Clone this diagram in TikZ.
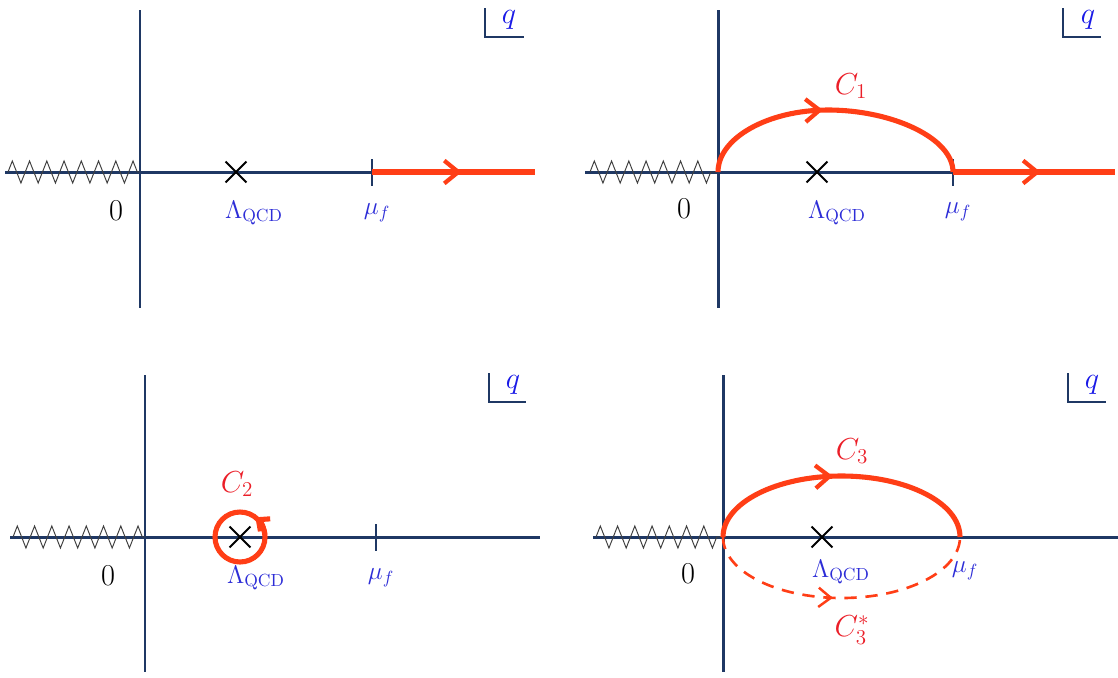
\documentclass[tikz,border=0pt]{standalone}
\usetikzlibrary{decorations.pathmorphing,decorations.markings,arrows.meta,shapes.misc}
\definecolor{axiscol}{RGB}{31,56,100}
\definecolor{cred}{RGB}{255,62,22}
\definecolor{lblue}{RGB}{45,45,215}
\definecolor{qblue}{RGB}{25,25,230}
\definecolor{lred}{RGB}{235,30,40}
\tikzset{
  axisline/.style={axiscol, line width=1.7pt},
  cutline/.style={black!75, line width=0.55pt, decorate,
    decoration={zigzag, segment length=0.345cm, amplitude=0.22cm}},
  contour/.style={cred, line width=2.9pt},
  dcontour/.style={cred, line width=1.5pt, dash pattern=on 7pt off 5pt},
  midarrow/.style={postaction={decorate, decoration={markings,
    mark=at position #1 with {\arrow[cred, line width=2.4pt]{Straight Barb[length=8pt, width=13pt]}}}}},
  dmidarrow/.style={postaction={decorate, decoration={markings,
    mark=at position #1 with {\arrow[cred, line width=1.4pt]{Straight Barb[length=7pt, width=11pt]}}}}},
  crossmark/.style={cross out, draw=black, line width=1.1pt, minimum size=0.38cm, inner sep=0pt},
  tick/.style={axiscol, line width=1.4pt},
  qcorner/.style={axiscol, line width=1.3pt},
  zero/.style={black, font=\fontsize{16}{18}\selectfont},
  blbl/.style={text=lblue, font=\fontsize{14.5}{17}\selectfont, inner sep=0pt},
  qlbl/.style={text=qblue, font=\fontsize{18}{20}\selectfont, inner sep=0pt},
  clbl/.style={text=lred, font=\fontsize{17}{19}\selectfont, inner sep=0pt},
}
\begin{document}
\begin{tikzpicture}[x=0.02cm, y=-0.02cm]
\useasboundingbox (0,0) rectangle (1118,677);

% ================= Panel 1 =================
\coordinate (a1t) at (140,10); \coordinate (a1b) at (140,308);
\coordinate (a1l) at (5,172);  \coordinate (a1r) at (535,172);
\coordinate (z1s) at (8,172);  \coordinate (o1) at (140,172);
\coordinate (m1) at (372,172);
\coordinate (m1u) at (372,159); \coordinate (m1d) at (372,186);
\draw[axisline] (a1t) -- (a1b);
\draw[axisline] (a1l) -- (a1r);
\draw[cutline] (z1s) -- (o1);
\draw[tick] (m1u) -- (m1d);
\node[crossmark] (x1) at (236,172) {};
\draw[contour, midarrow=0.55] (m1) -- (a1r);
\node[zero] (zero1) at (116,211) {$0$};
\node[blbl] (lam1) at (254,213) {$\Lambda_{\mathrm{QCD}}$};
\node[blbl] (mu1) at (377,213) {$\mu_f$};
\coordinate (q1a) at (485,8); \coordinate (q1b) at (485,37); \coordinate (q1c) at (524,37);
\draw[qcorner] (q1a) -- (q1b) -- (q1c);
\node[qlbl] (q1) at (509,20) {$q$};

% ================= Panel 2 =================
\coordinate (a2t) at (718,10); \coordinate (a2b) at (718,308);
\coordinate (a2l) at (585,172); \coordinate (a2r) at (1115,172);
\coordinate (z2s) at (590,172); \coordinate (o2) at (718,172);
\coordinate (m2) at (953,172);
\coordinate (m2u) at (953,159); \coordinate (m2d) at (953,186);
\draw[axisline] (a2t) -- (a2b);
\draw[axisline] (a2l) -- (a2r);
\draw[cutline] (z2s) -- (o2);
\draw[tick] (m2u) -- (m2d);
\node[crossmark] (x2) at (817,172) {};
\draw[contour, midarrow=0.46] (o2) .. controls (718,138) and (768,110) .. (828,110)
   .. controls (892,110) and (953,138) .. (m2);
\draw[contour, midarrow=0.54] (m2) -- (a2r);
\node[zero] (zero2) at (684,209) {$0$};
\node[blbl] (lam2) at (837,213) {$\Lambda_{\mathrm{QCD}}$};
\node[blbl] (mu2) at (958,212) {$\mu_f$};
\node[clbl] (c1) at (851,86) {$C_1$};
\coordinate (q2a) at (1063,8); \coordinate (q2b) at (1063,37); \coordinate (q2c) at (1101,37);
\draw[qcorner] (q2a) -- (q2b) -- (q2c);
\node[qlbl] (q2) at (1088,20) {$q$};

% ================= Panel 3 =================
\coordinate (a3t) at (145,375); \coordinate (a3b) at (145,672);
\coordinate (a3l) at (10,537);  \coordinate (a3r) at (540,537);
\coordinate (z3s) at (13,537);  \coordinate (o3) at (145,537);
\coordinate (m3u) at (376,524); \coordinate (m3d) at (376,551);
\coordinate (cc) at (240,537);
\draw[axisline] (a3t) -- (a3b);
\draw[axisline] (a3l) -- (a3r);
\draw[cutline] (z3s) -- (o3);
\draw[tick] (m3u) -- (m3d);
\node[crossmark] (x3) at (cc) {};
\draw[contour] (cc) circle[radius=0.5cm];
\draw[contour, -{Straight Barb[length=5pt, width=9pt]}] (cc) ++(5:0.5cm) arc[start angle=5, end angle=52, radius=0.5cm];
\node[zero] (zero3) at (108,576) {$0$};
\node[blbl] (lam3) at (256,578) {$\Lambda_{\mathrm{QCD}}$};
\node[blbl] (mu3) at (381,578) {$\mu_f$};
\node[clbl] (c2) at (237,484) {$C_2$};
\coordinate (q3a) at (489,373); \coordinate (q3b) at (489,402); \coordinate (q3c) at (526,402);
\draw[qcorner] (q3a) -- (q3b) -- (q3c);
\node[qlbl] (q3) at (513,385) {$q$};

% ================= Panel 4 =================
\coordinate (a4t) at (723,375); \coordinate (a4b) at (723,672);
\coordinate (a4l) at (593,537); \coordinate (a4r) at (1118,537);
\coordinate (z4s) at (596,537); \coordinate (o4) at (723,537);
\coordinate (m4) at (960,537);
\draw[axisline] (a4t) -- (a4b);
\draw[axisline] (a4l) -- (a4r);
\draw[cutline] (z4s) -- (o4);
\node[crossmark] (x4) at (822,537) {};
\draw[contour, midarrow=0.47] (o4) .. controls (723,503) and (776,476) .. (841.5,476)
   .. controls (907,476) and (960,503) .. (m4);
\draw[dcontour, dmidarrow=0.47] (o4) .. controls (723,571) and (776,598) .. (841.5,598)
   .. controls (907,598) and (960,571) .. (m4);
\node[zero] (zero4) at (688,574) {$0$};
\node[blbl] (lam4) at (841,572) {$\Lambda_{\mathrm{QCD}}$};
\node[blbl] (mu4) at (965,571) {$\mu_f$};
\node[clbl] (c3) at (852,451) {$C_3$};
\node[clbl] (c3s) at (852,630) {$C_3^*$};
\coordinate (q4a) at (1068,373); \coordinate (q4b) at (1068,402); \coordinate (q4c) at (1106,402);
\draw[qcorner] (q4a) -- (q4b) -- (q4c);
\node[qlbl] (q4) at (1092,385) {$q$};
\end{tikzpicture}
\end{document}
